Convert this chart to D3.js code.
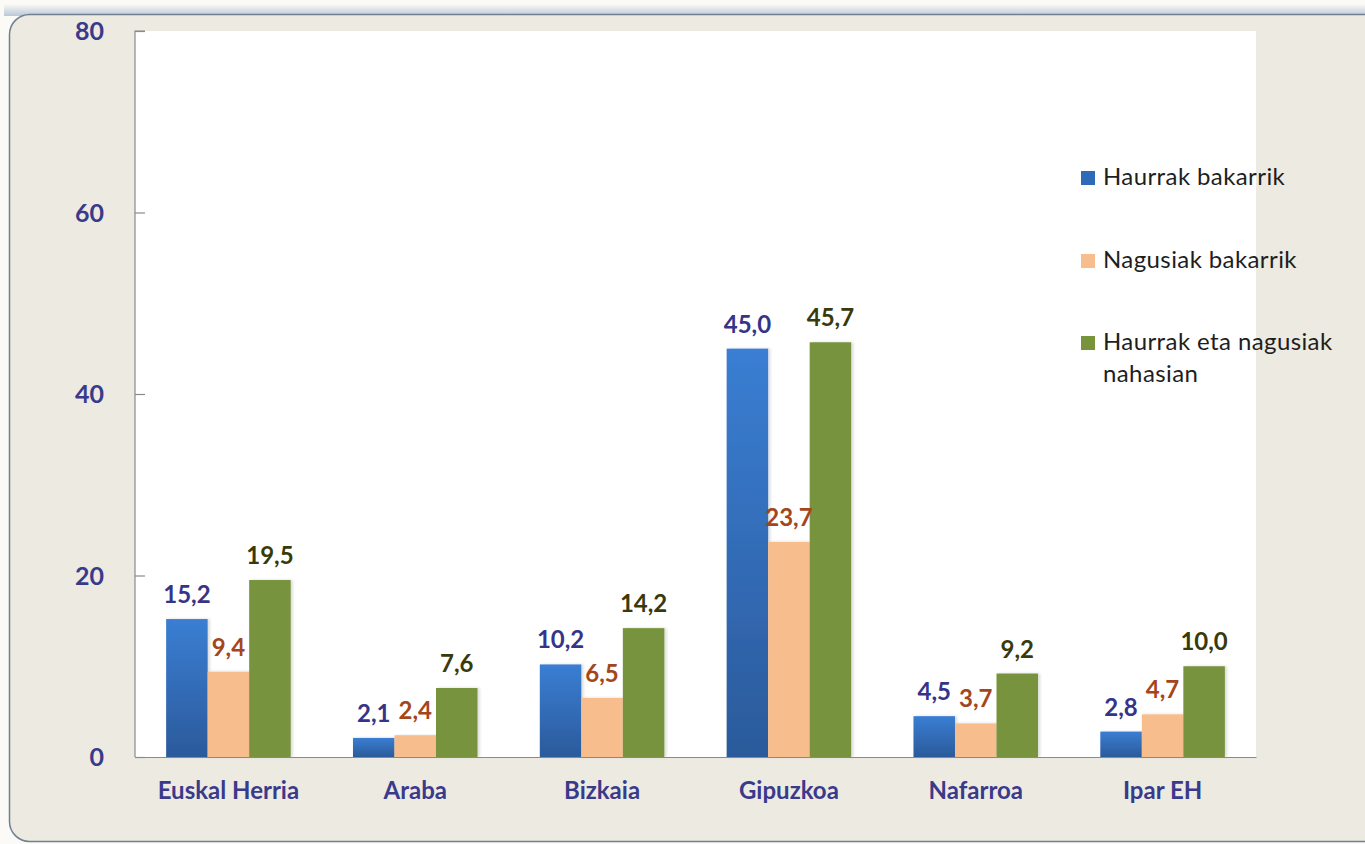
<!DOCTYPE html>
<html><head><meta charset="utf-8">
<script src="https://cdn.jsdelivr.net/npm/d3@7"></script>
<style>
html,body{margin:0;padding:0;background:#fbfaf6;}
svg{display:block;}
</style></head>
<body>
<svg id="chart" width="1365" height="844"></svg>
<script>
const categories = ["Euskal Herria","Araba","Bizkaia","Gipuzkoa","Nafarroa","Ipar EH"];
const seriesNames = ["Haurrak bakarrik","Nagusiak bakarrik","Haurrak eta nagusiak nahasian"];
const haurrak = [15.2, 2.1, 10.2, 45.0, 4.5, 2.8];
const nagusiak = [9.4, 2.4, 6.5, 23.7, 3.7, 4.7];
const nahasian = [19.5, 7.6, 14.2, 45.7, 9.2, 10.0];
const yTicks = [0, 20, 40, 60, 80];

const seriesValues = [haurrak, nagusiak, nahasian];
const fills = ["url(#gBlue)", "#F8BD8D", "#77933C"];
const legendFills = ["#2E6AB8", "#F8BD8D", "#77933C"];
const labelColors = ["#363489", "#A4461C", "#383A0C"];
const axisColor = "#3A3A8C";
const font = "Lato, 'Open Sans', sans-serif";

const svg = d3.select("#chart");
const defs = svg.append("defs");
const gb = defs.append("linearGradient").attr("id","gBlue").attr("x1",0).attr("y1",0).attr("x2",0).attr("y2",1);
gb.append("stop").attr("offset","0%").attr("stop-color","#3A7ED3");
gb.append("stop").attr("offset","100%").attr("stop-color","#2B5A9B");
const topGlow = defs.append("linearGradient").attr("id","gTop").attr("x1",0).attr("y1",0).attr("x2",0).attr("y2",1);
topGlow.append("stop").attr("offset","0%").attr("stop-color","#fbfaf6");
topGlow.append("stop").attr("offset","100%").attr("stop-color","#9fb3c8");
const sh = defs.append("filter").attr("id","shadow").attr("x","-20%").attr("y","-5%").attr("width","140%").attr("height","110%");
sh.append("feDropShadow").attr("dx",2).attr("dy",0).attr("stdDeviation",1.5).attr("flood-color","#000").attr("flood-opacity",0.15);

// outer panel
svg.append("rect").attr("x",4).attr("y",4).attr("width",1400).attr("height",12).attr("fill","url(#gTop)").attr("opacity",0.7);
svg.append("rect").attr("x",9.5).attr("y",14.5).attr("width",1400).attr("height",827)
  .attr("rx",20).attr("ry",20).attr("fill","#ECEAE1").attr("stroke","#6f8092").attr("stroke-width",1.5);

const pLeft = 135, pRight = 1256, pTop = 31, pBottom = 757;

// plot area
svg.append("rect").attr("x",pLeft).attr("y",pTop).attr("width",pRight-pLeft).attr("height",pBottom-pTop).attr("fill","#ffffff");

const y = d3.scaleLinear().domain([0,80]).range([pBottom, pTop]);
const x0 = d3.scaleBand().domain(categories).range([pLeft, pRight]).paddingInner(1/3).paddingOuter(1/6);
const x1 = d3.scaleBand().domain(d3.range(3)).range([0, x0.bandwidth()]);

// y axis
const yAxis = d3.axisRight(y).tickValues(yTicks).tickSize(10).tickFormat("");
const ya = svg.append("g").attr("transform",`translate(${pLeft},0)`).call(yAxis);
ya.selectAll("path,line").attr("stroke","#8a8a8a").attr("stroke-width",1.2);
ya.select(".domain").attr("d",`M10,${pTop}H0V${pBottom}`);
svg.append("g").selectAll("text").data(yTicks).join("text")
  .attr("x",104).attr("y",d=>y(d)+9).attr("text-anchor","end")
  .attr("font-family",font).attr("font-weight","bold").attr("font-size",25)
  .attr("fill",axisColor).text(d=>d);

// bars
const groups = svg.append("g").selectAll("g").data(categories).join("g")
  .attr("transform",d=>`translate(${x0(d)},0)`);
groups.each(function(cat, ci){
  const g = d3.select(this);
  seriesValues.forEach((vals, si)=>{
    g.append("rect").attr("x",x1(si)).attr("y",y(vals[ci])).attr("width",x1.bandwidth())
      .attr("height",y(0)-y(vals[ci])).attr("fill",fills[si]).attr("filter","url(#shadow)");
  });
  seriesValues.forEach((vals, si)=>{
    g.append("text").attr("x",x1(si)+x1.bandwidth()/2).attr("y",y(vals[ci])-16)
      .attr("text-anchor","middle").attr("font-family",font)
      .attr("font-weight","bold").attr("font-size",24).attr("fill",labelColors[si])
      .text(d3.format(".1f")(vals[ci]).replace(".",","));
  });
});

// x axis
const xAxis = d3.axisBottom(x0).tickSize(0).tickPadding(0);
const xa = svg.append("g").attr("transform",`translate(0,${pBottom})`).call(xAxis);
xa.select(".domain").attr("stroke","#8a8a8a").attr("stroke-width",1.2);
xa.selectAll("text").attr("dy",0).attr("y",42).attr("font-family",font)
  .attr("font-weight","bold").attr("font-size",24).attr("fill",axisColor);

// legend
const legendY = [185, 268, 350];
const lg = svg.append("g");
seriesNames.forEach((name, i)=>{
  lg.append("rect").attr("x",1081).attr("y",legendY[i]-14).attr("width",14).attr("height",14).attr("fill",legendFills[i]);
  const t = lg.append("text").attr("x",1103).attr("y",legendY[i])
    .attr("font-family",font).attr("font-size",24).attr("letter-spacing",0.4).attr("fill","#1e1e1e");
  if (i === 2) {
    t.append("tspan").attr("x",1103).text("Haurrak eta nagusiak");
    t.append("tspan").attr("x",1103).attr("dy",32).text("nahasian");
  } else t.text(name);
});
</script>
</body></html>
